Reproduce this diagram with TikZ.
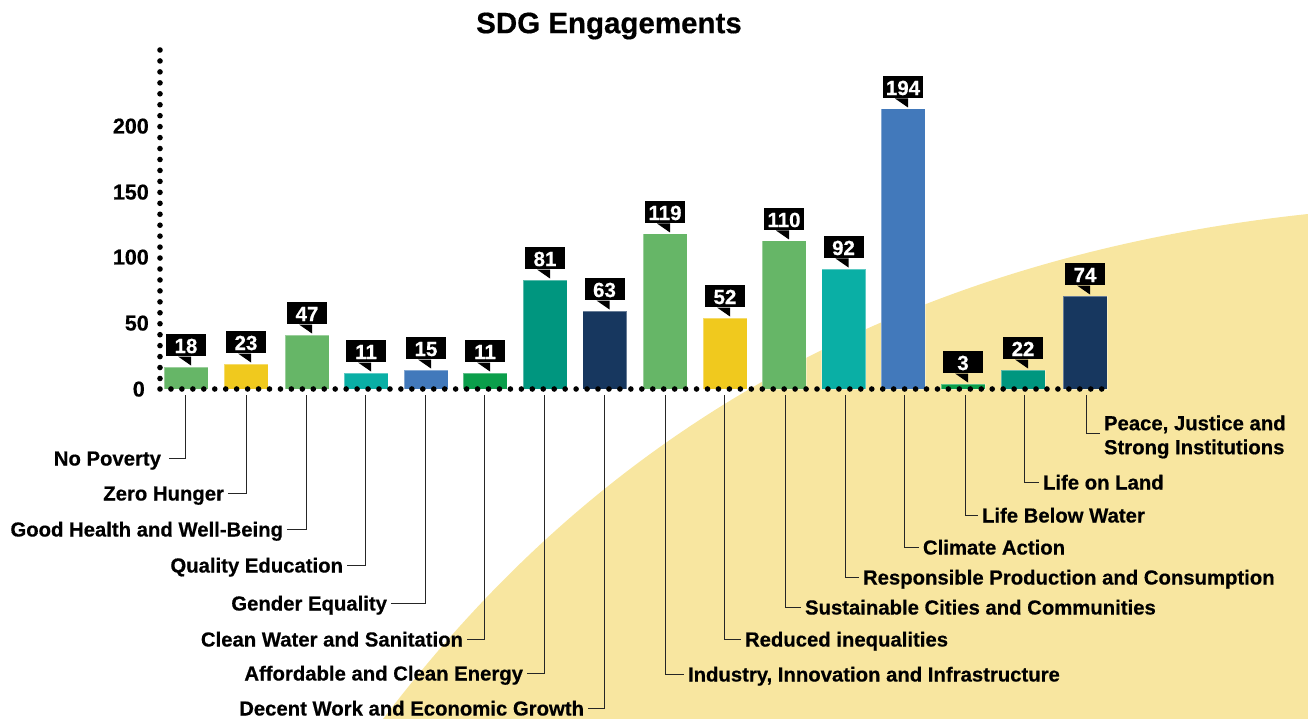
\documentclass[tikz,border=0pt]{standalone}
\usepackage{fontspec}
\setmainfont{Liberation Sans}[BoldFont={Liberation Sans Bold},BoldFeatures={FakeBold=0.5}]
\definecolor{sand}{HTML}{F8E6A0}
\definecolor{cgreen}{HTML}{66B667}
\definecolor{cyellow}{HTML}{F0C91E}
\definecolor{cteal}{HTML}{0AAFA5}
\definecolor{cblue}{HTML}{4279BB}
\definecolor{cdgreen}{HTML}{0B9E4B}
\definecolor{cdteal}{HTML}{00967F}
\definecolor{cnavy}{HTML}{17375F}
\tikzset{
  x=1pt,y=-1pt,
  barbox/.style={rectangle,inner sep=0pt,minimum width=44pt,anchor=south,draw=white,draw opacity=.35,line width=.5pt},
  callout/.style={rectangle,fill=black,text=white,inner sep=0pt,minimum width=40pt,minimum height=22.5pt,font=\bfseries\fontsize{20.5}{20}\selectfont,anchor=south,text height=16pt,text depth=0pt},
  tick/.style={inner sep=0pt,anchor=east,font=\bfseries\fontsize{21.5}{21}\selectfont,text height=15pt,text depth=0pt},
  sdg/.style={inner sep=0pt,outer sep=4pt,font=\bfseries\fontsize{20.3}{24}\selectfont,text height=17pt,text depth=2pt},
  leader/.style={draw=black!85,line width=1pt},
  axisdots/.style={line width=5.6pt,line cap=round,dash pattern=on 0pt off 10.95pt}
}
\begin{document}
\begin{tikzpicture}
\useasboundingbox (0,0) rectangle (1308,719);
\fill[sand] (383,719) .. controls (520,540) and (780,270) .. (1308,214) -- (1308,719) -- cycle;
\node[font=\bfseries\fontsize{29.5}{29}\selectfont,inner sep=0pt] (title) at (609,26) {SDG Engagements};
\foreach \i/\xc/\top/\col/\val in {
 1/186/367/cgreen/18, 2/246/364/cyellow/23, 3/307/335/cgreen/47, 4/366/373/cteal/11,
 5/426/370/cblue/15, 6/485/373/cdgreen/11, 7/545/280/cdteal/81, 8/604.5/311/cnavy/63,
 9/665/234/cgreen/119, 10/725/318/cyellow/52, 11/784/241/cgreen/110, 12/843.5/269/cteal/92,
 13/903/109/cblue/194, 14/963/384/cdgreen/3, 15/1023/370/cdteal/22, 16/1085/296/cnavy/74}{
  \pgfmathsetmacro{\hh}{389-\top}
  \node[barbox,fill=\col,minimum height=\hh pt] (b\i) at (\xc,389) {};
  \node[callout] (c\i) at (\xc,\top-10.5) {\val};
  \fill[black] ([xshift=-8pt]c\i.south) -- ([xshift=5pt,yshift=-9pt]c\i.south) -- ([xshift=5pt]c\i.south) -- cycle;
}
\draw[axisdots] (160,50) -- (160,389);
\draw[axisdots] (160,389) -- (1110,389);
\node[tick] (t200) at (149,126) {200};
\node[tick] (t150) at (149,192) {150};
\node[tick] (t100) at (149,257) {100};
\node[tick] (t50) at (149,323) {50};
\node[tick] (t0) at (145,389) {0};
% left labels
\foreach \i/\xl/\yl/\ex/\gp/\txt in {
 1/185/458/165/4/No Poverty, 2/246/493/228/0/Zero Hunger, 3/306/529/287/0/Good Health and Well-Being,
 4/365/565/347/0/Quality Education, 5/425/603/391/0/Gender Equality, 6/484.5/639/467/0/Clean Water and Sanitation,
 7/544/673/527/0/Affordable and Clean Energy, 8/604/708/588/0/Decent Work and Economic Growth}{
  \node[sdg,anchor=east] (l\i) at (\ex,\yl) {\txt};
  \coordinate (s\i) at (\xl,395);
  \draw[leader,shorten >=\gp pt] (s\i) |- (l\i.east);
}
% right labels
\foreach \i/\xl/\yl/\ex/\txt in {
 9/665/674/684/{Industry, Innovation and Infrastructure}, 10/724/639/741/Reduced inequalities,
 11/785/607/801/Sustainable Cities and Communities, 12/845/577/859/Responsible Production and Consumption,
 13/904/547/919/Climate Action, 14/965/515/978/Life Below Water, 15/1024/482/1039/Life on Land}{
  \node[sdg,anchor=west] (l\i) at (\ex,\yl) {\txt};
  \coordinate (s\i) at (\xl,395);
  \draw[leader] (s\i) |- (l\i.west);
}
\node[sdg,anchor=west,align=left,text height=,text depth=] (l16) at (1100,437) {Peace, Justice and\\Strong Institutions};
\coordinate (s16) at (1086,395);
\coordinate (e16) at (1100,433);
\draw[leader] (s16) |- (e16);
\end{tikzpicture}
\end{document}
